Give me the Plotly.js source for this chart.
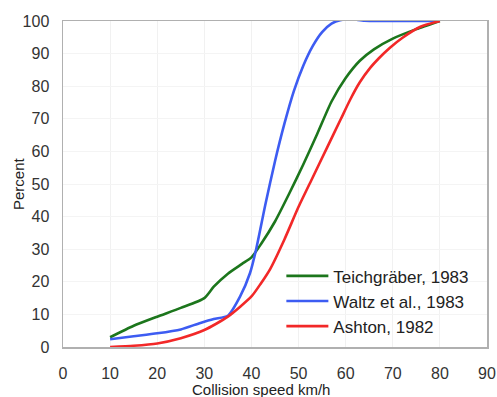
<!DOCTYPE html>
<html>
<head>
<meta charset="utf-8">
<script src="https://cdn.plot.ly/plotly-3.0.1.min.js"></script>
<style>html,body{margin:0;padding:0;background:#fff;}#chart{width:497px;height:397px;}</style>
</head>
<body>
<div id="chart"></div>
<script>
var teichSpeed = [10, 15, 20, 25, 30, 32, 35, 38, 40, 42, 45, 48, 51, 54, 57, 60, 63, 66, 70, 75, 80];
var teichPct   = [3, 6.5, 9.3, 12, 15, 18.5, 22.5, 25.5, 27.5, 31.5, 38.5, 47, 56, 65.5, 75.3, 82.5, 87.8, 91.3, 94.6, 97.5, 100];

var waltzSpeed = [10, 15, 20, 25, 29, 32, 35, 37.6, 39.7, 41, 43, 45, 47, 49, 51, 53, 55, 57, 59, 61, 64, 70, 80];
var waltzPct   = [2.4, 3.3, 4.2, 5.4, 7.3, 8.6, 9.6, 15.5, 22.7, 30, 44, 57, 68.5, 78.5, 86.3, 92.3, 96.6, 99.2, 100.3, 100.6, 100.1, 100, 100];

var ashtonSpeed = [10, 15, 20, 25, 30, 35, 40, 42, 44, 47, 50, 53, 56, 59, 61, 63, 65.2, 67, 69.4, 72, 76, 80];
var ashtonPct   = [0, 0.4, 1.1, 2.7, 5.2, 9.3, 15.5, 19.5, 24, 33, 43, 52, 61, 70, 76, 81.2, 85.6, 88.5, 91.8, 94.8, 98.3, 100];

var seriesNames = ["Teichgräber, 1983", "Waltz et al., 1983", "Ashton, 1982"];
var xTicks = [0, 10, 20, 30, 40, 50, 60, 70, 80, 90];
var yTicks = [0, 10, 20, 30, 40, 50, 60, 70, 80, 90, 100];

var font = "Liberation Sans, Arial, sans-serif";
function tr(x, y, name, color) {
  return {x: x, y: y, name: name, type: "scatter", mode: "lines",
    line: {color: color, width: 2.6, shape: "spline", smoothing: 0.6}, hoverinfo: "skip"};
}
var data = [
  tr(teichSpeed, teichPct, seriesNames[0], "#1c761c"),
  tr(waltzSpeed, waltzPct, seriesNames[1], "#3d5cf2"),
  tr(ashtonSpeed, ashtonPct, seriesNames[2], "#f22828")
];
var layout = {
  width: 497, height: 397,
  margin: {l: 63, r: 10, t: 21, b: 50},
  paper_bgcolor: "#fff", plot_bgcolor: "#fff",
  font: {family: font, color: "#222", size: 16},
  showlegend: true,
  legend: {x: 0.515, y: 0.272, xanchor: "left", yanchor: "top",
    bgcolor: "rgba(0,0,0,0)", font: {family: font, size: 17, color: "#222"},
    itemwidth: 42, tracegroupgap: 0},
  xaxis: {range: [0, 90], tickvals: xTicks, ticktext: xTicks.map(String),
    showgrid: true, gridcolor: "#f1f1f1", zeroline: false,
    showline: true, linecolor: "#b0b0b0", linewidth: 1.5, mirror: true,
    ticks: "", ticklabelstandoff: 11, tickfont: {size: 16, color: "#333"}},
  yaxis: {range: [0, 100], tickvals: yTicks, ticktext: yTicks.map(String),
    showgrid: true, gridcolor: "#f4f4f4", zeroline: false,
    showline: true, linecolor: "#b0b0b0", linewidth: 1.5, mirror: true,
    ticks: "", ticklabelstandoff: 9, tickfont: {size: 16, color: "#333"}},
  annotations: [
    {text: "Collision speed km/h", xref: "paper", yref: "paper",
      x: (261 - 63) / 424, y: -0.131, xanchor: "center", yanchor: "middle",
      showarrow: false, font: {family: font, size: 15, color: "#222"}},
    {text: "Percent", xref: "paper", yref: "paper",
      x: (18 - 63) / 424, y: 0.5, xanchor: "center", yanchor: "middle",
      textangle: -90, showarrow: false, font: {family: font, size: 15, color: "#222"}}
  ]
};
Plotly.newPlot("chart", data, layout, {staticPlot: true, displayModeBar: false});
</script>
</body>
</html>
